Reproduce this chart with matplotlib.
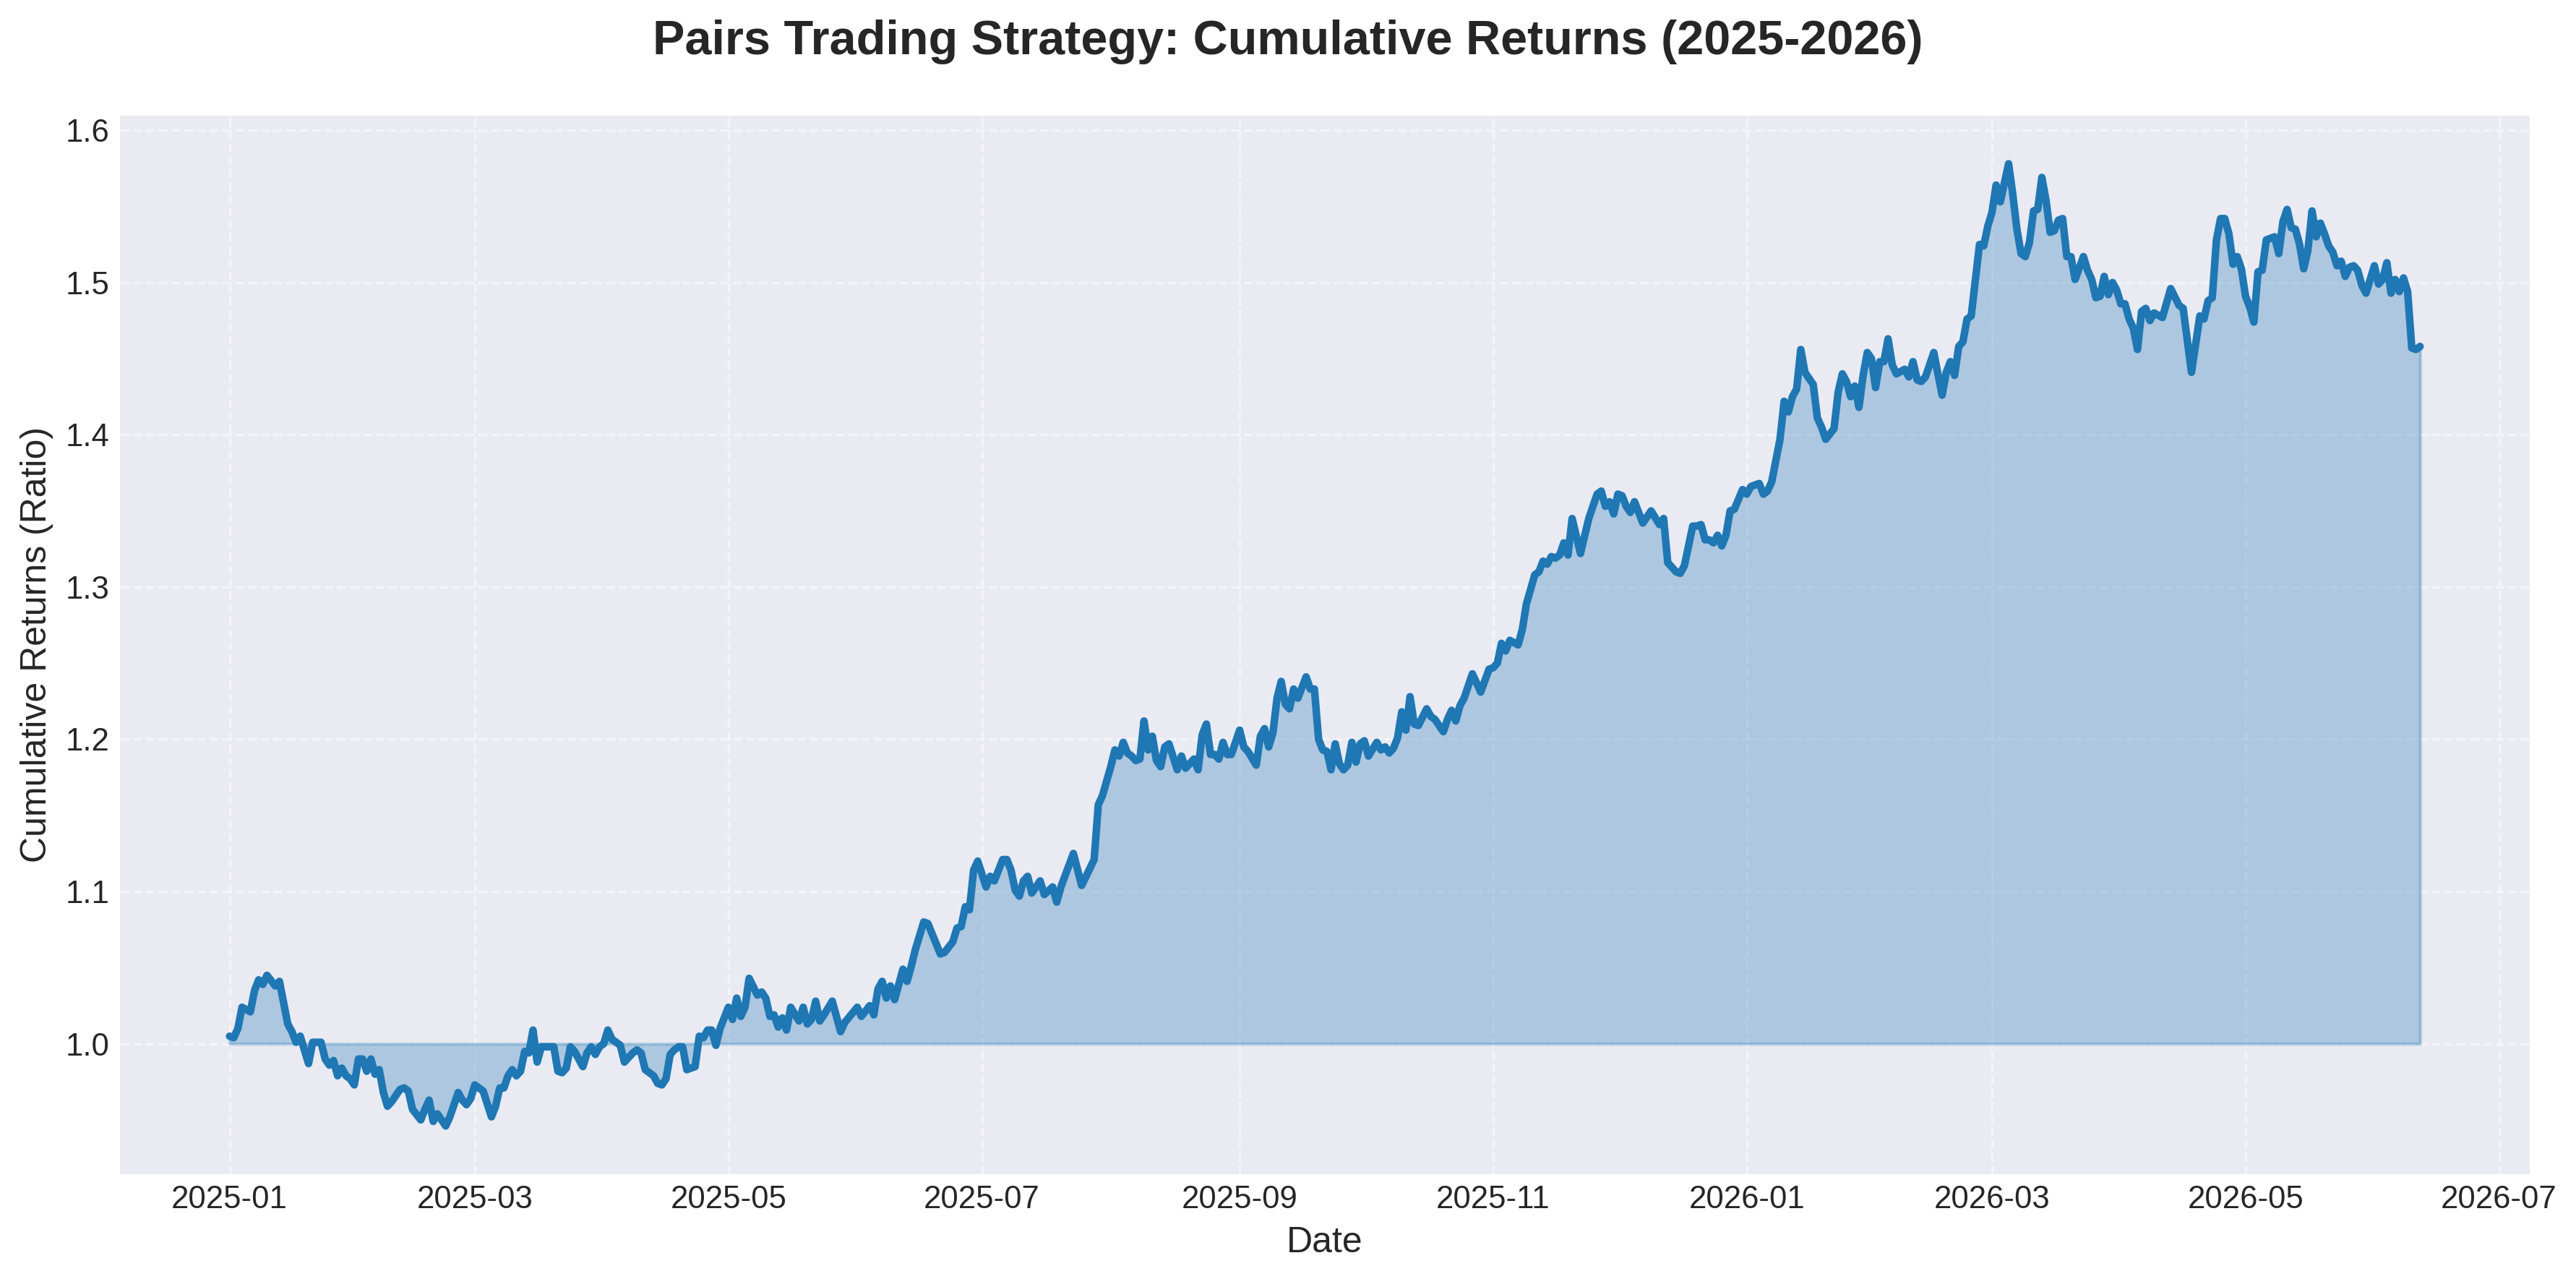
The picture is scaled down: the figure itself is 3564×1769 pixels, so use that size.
import numpy as np
import pandas as pd
import matplotlib
matplotlib.use("Agg")
import matplotlib.pyplot as plt

# day offsets from 2025-01-01 (turning points)
days = [
    0, 1, 2, 3, 5, 6, 7, 8, 9, 11,
    12, 14, 15, 16, 17, 19, 20, 22, 23, 24,
    25, 26, 27, 28, 29, 30, 31, 32, 33, 34,
    35, 36, 37, 38, 39, 41, 42, 43, 44, 46,
    47, 48, 49, 50, 52, 53, 55, 56, 57, 58,
    59, 60, 61, 63, 64, 65, 66, 67, 68, 69,
    70, 71, 72, 73, 74, 75, 77, 78, 79, 80,
    81, 82, 83, 85, 86, 87,
    88, 89, 90, 91, 92, 94, 95, 97, 98, 99,
    100, 102, 103, 104, 105, 106, 107, 108, 109, 110,
    112, 113, 114, 115, 116, 117, 118, 120, 121, 122,
    123, 124, 125, 127, 128, 129, 130, 131, 132, 133,
    134, 135, 137, 138, 139, 140, 141, 142, 143, 145,
    147, 148, 151, 152, 154, 155, 156, 157, 158, 159,
    160, 162, 163, 164, 165, 167, 168, 171, 172, 174,
    175, 176, 177, 178, 179, 180, 182, 183, 184, 186,
    187, 188, 189, 190, 191, 192, 193, 195, 196, 198,
    199, 200, 203, 205, 208, 209, 210, 212, 213, 214,
    215, 216, 217, 218, 219, 220, 221, 222, 223, 224,
    225, 226, 228, 229, 230, 232, 233, 234, 235, 236,
    237, 238, 239, 240, 241, 243, 244, 245, 247, 248,
    249, 250, 251, 252, 253, 254, 255, 256, 257, 259,
    260, 261,
    262, 263, 264, 265, 266, 267, 268, 269, 270, 271,
    272, 273, 274, 276, 277, 278, 279, 280, 281, 282,
    283, 284, 285, 286, 288, 289, 290, 292, 293, 294,
    295, 296, 297, 299, 301, 303, 304, 305, 306, 307,
    308, 310, 311, 312, 314, 315, 316, 317, 318, 319,
    320, 321, 322, 323, 325, 327, 329, 330, 331, 332,
    333, 334, 335, 336, 337, 338, 340, 342, 344, 345,
    346, 348, 349, 350, 352, 353, 354, 355, 356, 357,
    358, 359, 360, 361, 362, 364, 365, 366, 368, 369,
    370, 371, 373, 374, 375, 376, 377, 378, 379, 381,
    382, 383, 384, 386, 387, 388, 389, 390, 391, 392,
    393, 394, 395, 396, 397, 398, 399, 400, 401, 403,
    404, 405, 406, 407, 408, 410, 412, 413, 414, 415,
    416, 417, 418, 419, 421, 422, 423, 424, 425, 426,
    428, 429, 430, 431, 432,
    433, 434, 435, 436, 437, 438, 439, 440, 441, 442,
    443, 444, 446, 447, 448, 449, 450, 451, 452, 453,
    454, 455, 456, 457, 458, 459, 460, 461, 462, 463,
    465, 467, 469, 470, 472, 474, 475, 476, 477, 478,
    479, 480, 481, 482, 483, 484, 485, 486, 487, 488,
    489, 490, 492, 493, 494, 495, 496, 497, 498, 499,
    500, 501, 502, 503, 504, 505, 506, 507, 508, 509,
    510, 511, 512, 513, 514, 516, 517, 518, 519, 520,
    521, 522, 523, 524, 525, 526, 527,
]

cum_returns = [
    1.005, 1.004, 1.010, 1.024, 1.021, 1.035, 1.042, 1.039, 1.045, 1.038,
    1.041, 1.013, 1.008, 1.001, 1.005, 0.987, 1.001, 1.001, 0.990, 0.986,
    0.989, 0.979, 0.984, 0.979, 0.977, 0.973, 0.990, 0.990, 0.982, 0.990,
    0.980, 0.983, 0.968, 0.959, 0.962, 0.970, 0.971, 0.969, 0.957, 0.950,
    0.957, 0.963, 0.949, 0.954, 0.946, 0.952, 0.968, 0.963, 0.960, 0.964,
    0.973, 0.971, 0.969, 0.952, 0.959, 0.971, 0.971, 0.979, 0.983, 0.979,
    0.982, 0.995, 0.994, 1.009, 0.988, 0.998, 0.998, 0.998, 0.982, 0.981,
    0.984, 0.998, 0.995, 0.985, 0.994, 0.998,
    0.993, 0.998, 1.000, 1.009, 1.003, 0.999, 0.988, 0.994, 0.996, 0.994,
    0.983, 0.979, 0.974, 0.973, 0.977, 0.993, 0.996, 0.998, 0.998, 0.983,
    0.985, 1.005, 1.004, 1.009, 1.009, 0.999, 1.010, 1.024, 1.016, 1.030,
    1.018, 1.024, 1.043, 1.032, 1.034, 1.030, 1.018, 1.019, 1.011, 1.017,
    1.009, 1.024, 1.015, 1.024, 1.013, 1.016, 1.028, 1.015, 1.019, 1.028,
    1.008, 1.014, 1.024, 1.018, 1.025, 1.019, 1.036, 1.041, 1.030, 1.038,
    1.029, 1.049, 1.041, 1.051, 1.062, 1.080, 1.079, 1.059, 1.060, 1.067,
    1.076, 1.077, 1.090, 1.088, 1.114, 1.120, 1.103, 1.110, 1.107, 1.121,
    1.121, 1.114, 1.101, 1.097, 1.107, 1.110, 1.099, 1.107, 1.098, 1.103,
    1.093, 1.103, 1.125, 1.104, 1.121, 1.157, 1.163, 1.182, 1.193, 1.189,
    1.198, 1.191, 1.189, 1.186, 1.187, 1.212, 1.193, 1.202, 1.186, 1.182,
    1.195, 1.197, 1.180, 1.189, 1.181, 1.187, 1.180, 1.203, 1.210, 1.190,
    1.190, 1.187, 1.198, 1.190, 1.190, 1.206, 1.195, 1.192, 1.183, 1.202,
    1.207, 1.195, 1.204, 1.227, 1.238, 1.223, 1.220, 1.233, 1.227, 1.241,
    1.233, 1.233,
    1.200, 1.193, 1.192, 1.180, 1.197, 1.184, 1.180, 1.183, 1.198, 1.185,
    1.197, 1.199, 1.189, 1.198, 1.193, 1.195, 1.191, 1.194, 1.201, 1.218,
    1.206, 1.228, 1.210, 1.209, 1.220, 1.215, 1.213, 1.205, 1.213, 1.219,
    1.212, 1.222, 1.227, 1.243, 1.231, 1.246, 1.247, 1.250, 1.263, 1.258,
    1.265, 1.262, 1.272, 1.289, 1.308, 1.310, 1.317, 1.315, 1.320, 1.319,
    1.321, 1.329, 1.321, 1.345, 1.322, 1.345, 1.361, 1.363, 1.353, 1.356,
    1.348, 1.361, 1.360, 1.353, 1.349, 1.356, 1.342, 1.350, 1.341, 1.345,
    1.316, 1.310, 1.309, 1.314, 1.340, 1.340, 1.341, 1.331, 1.331, 1.329,
    1.334, 1.327, 1.334, 1.350, 1.351, 1.364, 1.361, 1.366, 1.368, 1.361,
    1.363, 1.369, 1.397, 1.422, 1.415, 1.425, 1.430, 1.456, 1.441, 1.433,
    1.411, 1.405, 1.397, 1.404, 1.428, 1.440, 1.435, 1.425, 1.432, 1.418,
    1.439, 1.454, 1.450, 1.431, 1.448, 1.448, 1.463, 1.446, 1.440, 1.443,
    1.438, 1.448, 1.436, 1.435, 1.438, 1.454, 1.426, 1.441, 1.448, 1.439,
    1.458, 1.461, 1.476, 1.478, 1.525, 1.524, 1.537, 1.546, 1.564, 1.553,
    1.578, 1.558, 1.535, 1.519, 1.517,
    1.526, 1.547, 1.548, 1.569, 1.554, 1.533, 1.534, 1.541, 1.542, 1.517,
    1.517, 1.502, 1.517, 1.508, 1.502, 1.490, 1.491, 1.504, 1.492, 1.500,
    1.495, 1.486, 1.486, 1.476, 1.470, 1.456, 1.481, 1.483, 1.475, 1.480,
    1.477, 1.496, 1.485, 1.483, 1.441, 1.478, 1.476, 1.488, 1.490, 1.528,
    1.542, 1.542, 1.532, 1.512, 1.517, 1.509, 1.491, 1.484, 1.474, 1.507,
    1.508, 1.528, 1.530, 1.519, 1.540, 1.548, 1.536, 1.535, 1.525, 1.509,
    1.521, 1.547, 1.530, 1.539, 1.532, 1.524, 1.520, 1.511, 1.514, 1.504,
    1.510, 1.511, 1.508, 1.498, 1.493, 1.511, 1.499, 1.502, 1.513, 1.493,
    1.502, 1.494, 1.503, 1.494, 1.457, 1.456, 1.458,
]

assert len(days) == len(cum_returns)

start_date = pd.Timestamp("2025-01-01")
dates = start_date + pd.to_timedelta(days, unit="D")
returns = pd.Series(cum_returns, index=dates)

plt.style.use("seaborn-v0_8-darkgrid")
plt.rcParams["font.family"] = ["Liberation Sans", "DejaVu Sans"]

fig = plt.figure(figsize=(3564 / 300, 1769 / 300), dpi=300)
ax = fig.add_axes([0.0466, 0.082, 0.9354, 0.8276])

ax.plot(returns.index, returns.values, color="#1f77b4", linewidth=2.5)
ax.fill_between(returns.index, returns.values, 1.0, color="#1f77b4", alpha=0.3)

fig.suptitle("Pairs Trading Strategy: Cumulative Returns (2025-2026)",
             fontsize=16, fontweight="bold", x=0.5, y=0.985)
ax.set_xlabel("Date", fontsize=12)
ax.set_ylabel("Cumulative Returns (Ratio)", fontsize=12)
ax.tick_params(axis="both", labelsize=10.5)
ax.grid(True, linestyle="--", alpha=0.5)

fig.savefig("out.png", dpi=300)
